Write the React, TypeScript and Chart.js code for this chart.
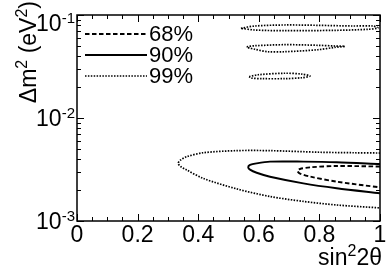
import React, { useEffect, useRef } from 'react';
import { Chart, registerables } from 'chart.js';

Chart.register(...registerables);

const levels = ['68%', '90%', '99%'];

// 68% C.L. contour (dashed)
const c68X = [1.0, 0.857, 0.769, 0.736, 0.728, 0.736, 0.769, 0.857, 1.0];
const c68Y = [0.00338, 0.00342, 0.00332, 0.0032, 0.00306, 0.00289, 0.0027, 0.00241, 0.00212];

// 90% C.L. contour (solid)
const c90X = [1.0, 0.857, 0.747, 0.637, 0.593, 0.571, 0.565, 0.571, 0.593, 0.637, 0.747, 0.857, 1.0];
const c90Y = [0.00357, 0.00372, 0.00377, 0.00377, 0.00363, 0.0035, 0.00332, 0.00315, 0.00294, 0.00269, 0.00232, 0.00208, 0.00186];

// 99% C.L. contours (dotted)
const c99aX = [1.0, 0.911, 0.802, 0.637, 0.527, 0.417, 0.362, 0.342, 0.334, 0.342, 0.362, 0.417, 0.527, 0.637, 0.747, 0.857, 1.0];
const c99aY = [0.00457, 0.0046, 0.00465, 0.00482, 0.00482, 0.0046, 0.00421, 0.00391, 0.00363, 0.00338, 0.00313, 0.00259, 0.00205, 0.00173, 0.00155, 0.00143, 0.00134];

const c99bX = [0.541, 0.587, 0.686, 0.795, 0.908, 0.977, 0.993, 0.96, 0.851, 0.686, 0.587, 0.541];
const c99bY = [0.0743, 0.0782, 0.08, 0.0794, 0.0782, 0.0782, 0.0748, 0.0726, 0.071, 0.0704, 0.0715, 0.0743];

const c99cX = [0.56, 0.587, 0.686, 0.795, 0.851, 0.884, 0.851, 0.795, 0.686, 0.63, 0.587, 0.564, 0.56];
const c99cY = [0.0492, 0.0503, 0.0515, 0.0508, 0.05, 0.0496, 0.0485, 0.046, 0.044, 0.044, 0.0465, 0.0482, 0.0492];

const c99dX = [0.568, 0.598, 0.686, 0.742, 0.769, 0.742, 0.686, 0.61, 0.577, 0.568];
const c99dY = [0.0252, 0.0263, 0.0272, 0.0267, 0.0256, 0.0246, 0.0241, 0.0241, 0.0244, 0.0252];

const xTicks = [0, 0.2, 0.4, 0.6, 0.8, 1];
const xTickLabels = ['0', '0.2', '0.4', '0.6', '0.8', '1'];
const yTicks = [0.001, 0.01, 0.1];
const yTickExps = ['-3', '-2', '-1'];

const FONT = '"Liberation Sans", Arial, Helvetica, sans-serif';

const styles: Record<string, { dash: number[]; width: number }> = {
  '68%': { dash: [4.5, 2.5], width: 1.9 },
  '90%': { dash: [], width: 1.9 },
  '99%': { dash: [1.5, 1.4], width: 1.7 },
};

function pts(xs: number[], ys: number[]) {
  return xs.map((x, i) => ({ x, y: ys[i] }));
}

function ds(label: string, xs: number[], ys: number[]) {
  const s = styles[label];
  return {
    label,
    data: pts(xs, ys),
    showLine: true,
    borderColor: '#000',
    backgroundColor: '#000',
    borderWidth: s.width,
    borderDash: s.dash,
    pointRadius: 0,
    tension: 0.3,
    fill: false,
  };
}

function drawRuns(ctx: CanvasRenderingContext2D, runs: [string, boolean][], endX: number, y: number) {
  let total = 0;
  runs.forEach(([t, sup]) => {
    ctx.font = `${sup ? 16 : 23}px ${FONT}`;
    total += ctx.measureText(t).width;
  });
  let cx = endX - total;
  ctx.textAlign = 'left';
  runs.forEach(([t, sup]) => {
    ctx.font = `${sup ? 16 : 23}px ${FONT}`;
    ctx.fillText(t, cx, sup ? y - 9 : y);
    cx += ctx.measureText(t).width;
  });
}

const deco = {
  id: 'deco',
  afterDraw(chart: any) {
    const { ctx, chartArea: a, scales } = chart;
    const xs = scales.x;
    const ys = scales.y;
    ctx.save();
    ctx.strokeStyle = '#000';
    ctx.setLineDash([]);
    ctx.lineWidth = 1.5;
    ctx.strokeRect(a.left, a.top, a.right - a.left, a.bottom - a.top);

    ctx.lineWidth = 1;
    // x ticks (inside, bottom and top)
    for (let i = 0; i <= 20; i++) {
      const v = i * 0.05;
      const px = Math.round(xs.getPixelForValue(v)) + 0.5;
      const len = i % 4 === 0 ? 7 : 4;
      ctx.beginPath();
      ctx.moveTo(px, a.bottom);
      ctx.lineTo(px, a.bottom - len);
      ctx.moveTo(px, a.top);
      ctx.lineTo(px, a.top + len);
      ctx.stroke();
    }
    // y ticks (log, inside, left and right)
    const decades = [0.001, 0.01];
    const yv: { v: number; major: boolean }[] = [];
    decades.forEach((d) => {
      for (let m = 1; m <= 9; m++) yv.push({ v: m * d, major: m === 1 });
    });
    yv.push({ v: 0.1, major: true });
    yv.forEach(({ v, major }) => {
      const py = Math.round(ys.getPixelForValue(v)) + 0.5;
      const len = major ? 7 : 4;
      ctx.beginPath();
      ctx.moveTo(a.left, py);
      ctx.lineTo(a.left + len, py);
      ctx.moveTo(a.right, py);
      ctx.lineTo(a.right - len, py);
      ctx.stroke();
    });

    ctx.fillStyle = '#000';
    // x tick labels
    ctx.font = `23px ${FONT}`;
    ctx.textAlign = 'center';
    ctx.textBaseline = 'alphabetic';
    xTicks.forEach((v, i) => {
      ctx.fillText(xTickLabels[i], xs.getPixelForValue(v), a.bottom + 21);
    });

    // y tick labels 10^exp
    yTicks.forEach((v, i) => {
      const py = ys.getPixelForValue(v);
      const base = Math.max(py + 8, 31);
      const rightX = a.left - 2;
      ctx.font = `15px ${FONT}`;
      ctx.textAlign = 'right';
      const ew = ctx.measureText(yTickExps[i]).width;
      ctx.fillText(yTickExps[i], rightX, base - 8.5);
      ctx.font = `23px ${FONT}`;
      ctx.fillText('10', rightX - ew, base);
    });

    // x axis title
    drawRuns(
      ctx,
      [
        ['sin', false],
        ['2', true],
        ['2θ', false],
      ],
      a.right + 2,
      a.bottom + 44
    );

    // y axis title (rotated)
    ctx.save();
    ctx.translate(36, 1);
    ctx.rotate(-Math.PI / 2);
    drawRuns(
      ctx,
      [
        ['Δm', false],
        ['2', true],
        [' (eV', false],
        ['2', true],
        [')', false],
      ],
      0,
      0
    );
    ctx.restore();

    // legend
    levels.forEach((lab, i) => {
      const s = styles[lab];
      const y = 34 + i * 21;
      ctx.lineWidth = s.width;
      ctx.setLineDash(s.dash);
      ctx.beginPath();
      ctx.moveTo(85, y);
      ctx.lineTo(147, y);
      ctx.stroke();
      ctx.setLineDash([]);
      ctx.font = `22px ${FONT}`;
      ctx.textAlign = 'left';
      ctx.fillText(lab, 149, y + 7);
    });
    ctx.restore();
  },
};

export default function App() {
  const ref = useRef<HTMLCanvasElement | null>(null);
  useEffect(() => {
    if (!ref.current) return;
    const chart = new Chart(ref.current, {
      type: 'scatter',
      data: {
        datasets: [
          ds('68%', c68X, c68Y),
          ds('90%', c90X, c90Y),
          ds('99%', c99aX, c99aY),
          ds('99%', c99bX, c99bY),
          ds('99%', c99cX, c99cY),
          ds('99%', c99dX, c99dY),
        ] as any,
      },
      options: {
        responsive: true,
        maintainAspectRatio: false,
        animation: false,
        layout: { padding: { left: 77, right: 7, top: 15, bottom: 51 } },
        plugins: { legend: { display: false }, tooltip: { enabled: false } },
        scales: {
          x: {
            type: 'linear',
            min: 0,
            max: 1,
            grid: { display: false },
            border: { display: false },
            ticks: { display: false },
            afterFit: (s: any) => {
              s.height = 0;
            },
          },
          y: {
            type: 'logarithmic',
            min: 0.001,
            max: 0.1,
            grid: { display: false },
            border: { display: false },
            ticks: { display: false },
            afterFit: (s: any) => {
              s.width = 0;
            },
          },
        },
      } as any,
      plugins: [deco],
    });
    return () => chart.destroy();
  }, []);
  return (
    <div style={{ position: 'absolute', left: 0, top: 0, width: 387, height: 272, background: '#fff' }}>
      <canvas ref={ref} />
    </div>
  );
}
